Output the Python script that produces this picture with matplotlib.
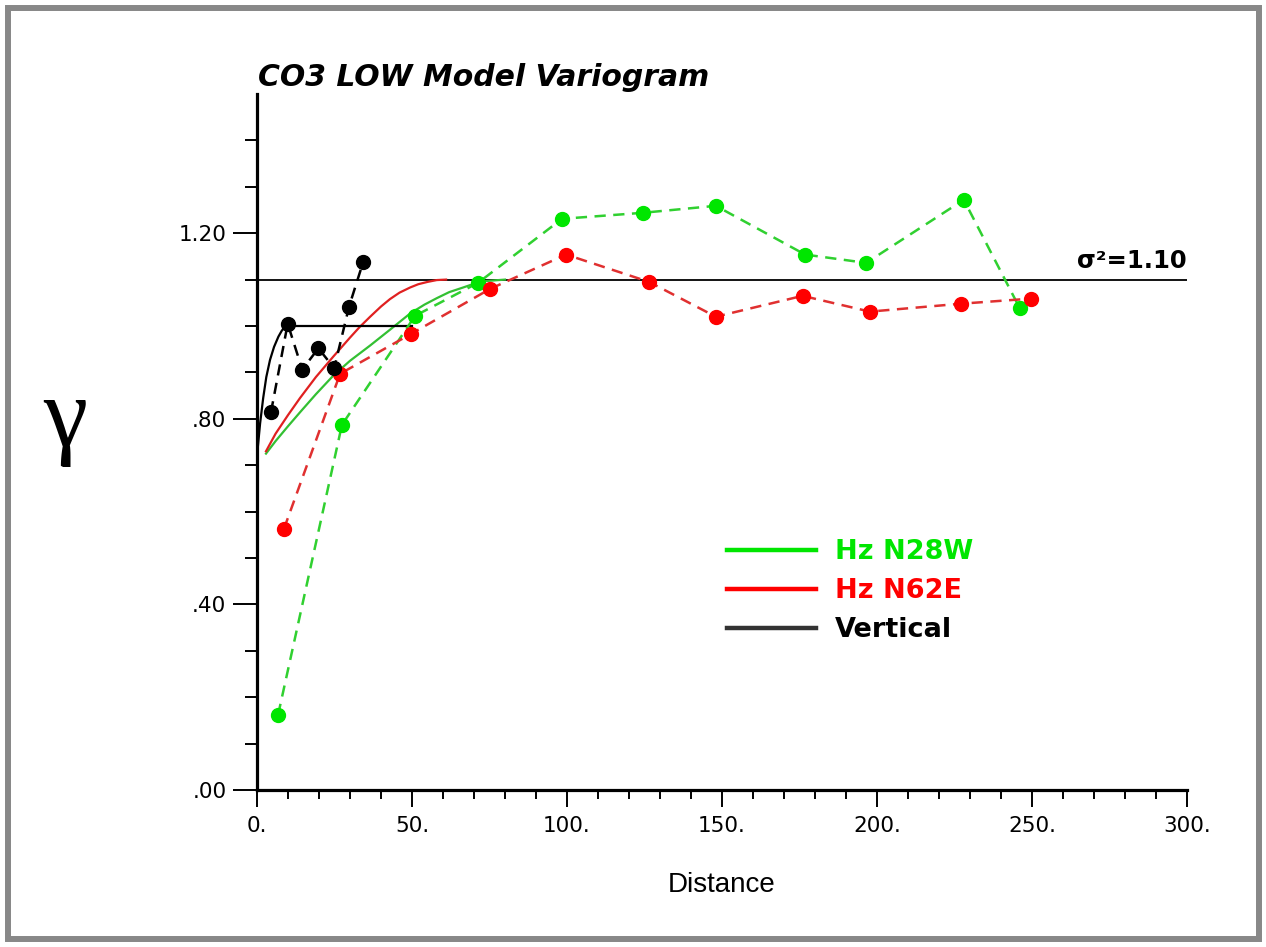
import numpy as np
import matplotlib
matplotlib.use("Agg")
import matplotlib.pyplot as plt
from matplotlib.lines import Line2D
from matplotlib.patches import Rectangle

plt.rcParams['font.family'] = ['Liberation Sans', 'DejaVu Sans']

# experimental variogram points
n28w_x = [6.8, 27.4, 51.0, 71.3, 98.4, 124.5, 148.0, 176.8, 196.5, 228.0, 246.0]
n28w_y = [0.162, 0.787, 1.022, 1.093, 1.231, 1.244, 1.259, 1.154, 1.136, 1.272, 1.039]
n62e_x = [8.7, 26.8, 49.7, 75.2, 99.7, 126.5, 148.0, 176.0, 197.7, 227.0, 249.7]
n62e_y = [0.563, 0.897, 0.983, 1.080, 1.154, 1.095, 1.020, 1.065, 1.031, 1.048, 1.059]
vert_x = [4.5, 9.9, 14.6, 19.8, 24.9, 29.7, 34.3]
vert_y = [0.814, 1.005, 0.906, 0.952, 0.909, 1.042, 1.139]

# model curves
mod_n28w_x = [2.9, 6, 10, 14, 19, 24.6, 30, 36.5, 42.9, 49.4, 54, 58, 62, 66.5, 70, 74, 80]
mod_n28w_y = [0.725, 0.752, 0.784, 0.815, 0.853, 0.893, 0.925, 0.958, 0.992, 1.027,
              1.046, 1.06, 1.073, 1.083, 1.091, 1.097, 1.10]
mod_n62e_x = [2.9, 6, 10, 13.9, 19, 24.6, 30, 33, 36.5, 40, 42.9, 46, 49.4, 52, 55, 58, 61]
mod_n62e_y = [0.730, 0.768, 0.808, 0.845, 0.89, 0.934, 0.975, 0.997, 1.02, 1.042, 1.058,
              1.072, 1.083, 1.09, 1.095, 1.099, 1.10]
mod_vert_x = [0, 1, 2, 3, 4.2, 5.5, 6.9, 8, 9, 10, 50]
mod_vert_y = [0.72, 0.79, 0.845, 0.89, 0.927, 0.955, 0.977, 0.99, 0.998, 1.0, 1.0]

sill = 1.10
labels = ['Hz N28W', 'Hz N62E', 'Vertical']

fig = plt.figure(figsize=(12.66, 9.47), dpi=100)
ax = fig.add_axes([257/1266, 1-790/947, (1187-257)/1266, (790-94)/947])

green = '#00e600'
red = '#ff0000'

ax.axhline(sill, color='black', lw=1.3, zorder=1)

ax.plot(mod_n28w_x, mod_n28w_y, color='#33c033', lw=1.6, zorder=2)
ax.plot(mod_n62e_x, mod_n62e_y, color='#e02020', lw=1.6, zorder=2)
ax.plot(mod_vert_x, mod_vert_y, color='black', lw=1.6, zorder=2)

ax.plot(n28w_x, n28w_y, color='#30d030', lw=1.8, dashes=(4.5, 3), zorder=3)
ax.plot(n28w_x, n28w_y, 'o', color=green, ms=10, zorder=4)
ax.plot(n62e_x, n62e_y, color='#e03030', lw=1.8, dashes=(4.5, 3), zorder=3)
ax.plot(n62e_x, n62e_y, 'o', color=red, ms=10, zorder=4)
ax.plot(vert_x, vert_y, color='black', lw=1.8, dashes=(4.5, 3), zorder=3)
ax.plot(vert_x, vert_y, 'o', color='black', ms=10, zorder=4)

ax.set_xlim(0, 300)
ax.set_ylim(0, 1.5)
for s in ['top', 'right']:
    ax.spines[s].set_visible(False)
for s in ['left', 'bottom']:
    ax.spines[s].set_linewidth(2.3)

ax.set_xticks(np.arange(0, 301, 50))
ax.set_xticklabels(['0.', '50.', '100.', '150.', '200.', '250.', '300.'])
ax.set_xticks(np.arange(0, 301, 10), minor=True)
ax.set_yticks([0, 0.4, 0.8, 1.2])
ax.set_yticklabels(['.00', '.40', '.80', '1.20'])
ax.set_yticks(np.arange(0.1, 1.45, 0.1), minor=True)
ax.tick_params(axis='x', which='major', direction='out', length=12.5, width=1.4, pad=6)
ax.tick_params(axis='x', which='minor', direction='out', length=6.5, width=1.4)
ax.tick_params(axis='y', which='major', direction='out', length=17, width=1.4, pad=5)
ax.tick_params(axis='y', which='minor', direction='out', length=8.5, width=1.4)
for lab in ax.get_xticklabels() + ax.get_yticklabels():
    lab.set_family(['DejaVu Sans'])
    lab.set_fontsize(15.5)

ax.text(300, sill + 0.015, 'σ²=1.10', ha='right', va='bottom', fontsize=17.5,
        fontweight='bold', family=['DejaVu Sans'])

handles = [Line2D([], [], color=green, lw=3.2),
           Line2D([], [], color=red, lw=3.2),
           Line2D([], [], color='#333333', lw=3.2)]
leg = fig.legend(handles, labels, loc='upper left', bbox_to_anchor=(727/1266, 1-539/947),
                 frameon=False, handlelength=3.3, handletextpad=0.7, labelspacing=0.48,
                 borderpad=0, borderaxespad=0,
                 prop={'size': 19.5, 'weight': 'bold', 'family': 'DejaVu Sans'},
                 labelcolor=[green, red, 'black'])

fig.text(258/1266, 1-77/947, 'CO3 LOW Model Variogram', fontsize=21.5, fontweight='bold',
         fontstyle='italic', family=['DejaVu Sans'], ha='left', va='center')
fig.text(65/1266, 1-422/947, 'γ', fontsize=72, family=['Liberation Serif', 'DejaVu Serif'],
         ha='center', va='center')
fig.text(722/1266, 1-885/947, 'Distance', fontsize=20, ha='center', va='center')

fig.patches.append(Rectangle((8/1266, 8.5/947), (1259-8)/1266, (939-8.5)/947,
                             transform=fig.transFigure, fill=False, edgecolor='#888888', lw=4.3))

fig.savefig('out.png', dpi=100)
